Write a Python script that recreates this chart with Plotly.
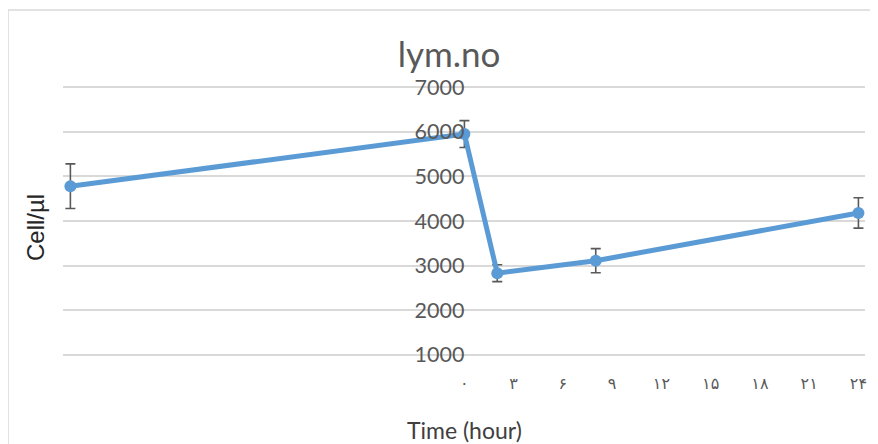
import plotly.graph_objects as go

# data
hours = [-24, 0, 2, 8, 24]
cells = [4780, 5950, 2830, 3110, 4180]
cells_err = [500, 300, 190, 270, 340]

tick_hours = [0, 3, 6, 9, 12, 15, 18, 21, 24]
tick_text = ["۰", "۳", "۶", "۹", "۱۲", "۱۵", "۱۸", "۲۱", "۲۴"]
y_ticks = [1000, 2000, 3000, 4000, 5000, 6000, 7000]

x_range = [-24.45, 24.4]
y_range = [950, 7050]
# y axis crosses at hour 0
y_pos = (0 - x_range[0]) / (x_range[1] - x_range[0])

grey = "#595959"
blue = "#5B9BD5"

# the page body has an 8px margin, so the figure is 8px smaller
W, H = 870, 436
L, R, T, B = 55, 13, 77, 87
pw, ph = W - L - R, H - T - B


# page pixel -> paper coords
def px(x):
    return (x - 8 - L) / pw


def py(y):
    return (H - B - (y - 8)) / ph


fig = go.Figure()
fig.add_trace(
    go.Scatter(
        x=hours,
        y=cells,
        mode="lines+markers",
        line=dict(color=blue, width=5),
        marker=dict(color=blue, size=12),
        error_y=dict(
            type="data",
            array=cells_err,
            color=grey,
            thickness=1.6,
            width=5,
        ),
        showlegend=False,
    )
)

fig.update_layout(
    width=W,
    height=H,
    margin=dict(l=L, r=R, t=T, b=B),
    paper_bgcolor="white",
    plot_bgcolor="white",
    title=dict(
        text="lym.no",
        x=441 / W,
        xanchor="center",
        y=1 - 47 / H,
        yanchor="middle",
        font=dict(family="Lato", size=35, color=grey),
    ),
    xaxis=dict(
        range=x_range,
        tickvals=tick_hours,
        ticktext=tick_text,
        showgrid=False,
        zeroline=False,
        showline=False,
        ticks="",
        ticklabelstandoff=15,
        tickfont=dict(family="DejaVu Sans", size=16, color=grey),
    ),
    yaxis=dict(
        range=y_range,
        tickvals=y_ticks,
        anchor="free",
        position=y_pos,
        showgrid=True,
        gridcolor="#D9D9D9",
        gridwidth=1.5,
        zeroline=False,
        showline=False,
        ticks="",
        tickfont=dict(family="Lato", size=21.5, color=grey),
    ),
)

# axis titles
fig.add_annotation(
    text="Time (hour)",
    xref="paper",
    yref="paper",
    x=px(464),
    y=py(430),
    xanchor="center",
    yanchor="middle",
    showarrow=False,
    font=dict(family="Lato", size=23, color="#404040"),
)
fig.add_annotation(
    text="Cell/µl",
    xref="paper",
    yref="paper",
    x=px(35),
    y=py(228),
    xanchor="center",
    yanchor="middle",
    textangle=-90,
    showarrow=False,
    font=dict(family="Liberation Sans", size=24, color="#262626"),
)

# chart area outline
fig.add_shape(
    type="rect",
    xref="paper",
    yref="paper",
    x0=px(8),
    x1=px(900),
    y0=py(470),
    y1=py(10),
    line=dict(color="#D9D9D9", width=1.5),
    layer="below",
)

fig.write_html("out.html")
